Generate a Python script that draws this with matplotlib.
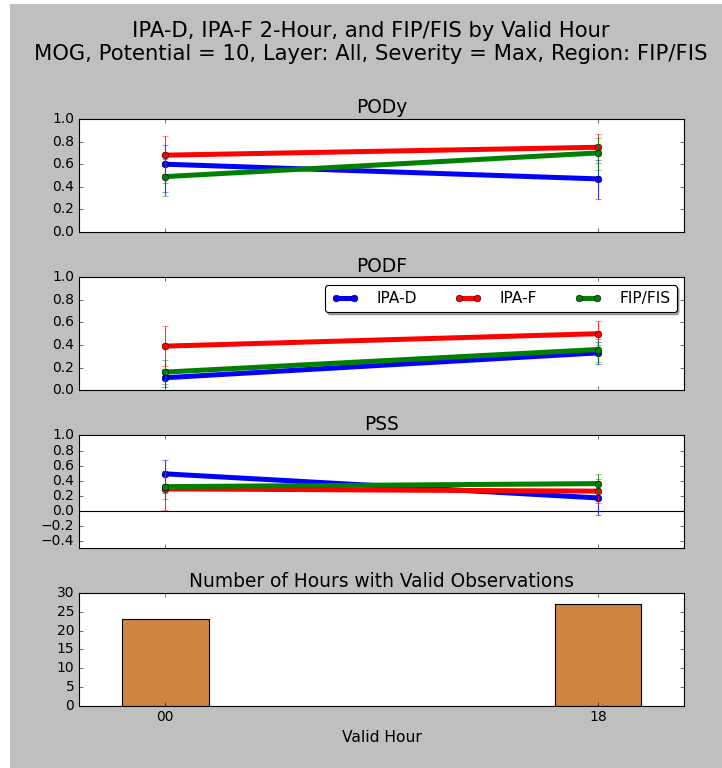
import matplotlib
matplotlib.use("Agg")
import matplotlib.pyplot as plt
from matplotlib.patches import Rectangle
import numpy as np

plt.style.use("classic")
plt.rcParams["font.size"] = 14
plt.rcParams["xtick.labelsize"] = 12.5
plt.rcParams["ytick.labelsize"] = 12.5

hours = ["00", "18"]
models = ["IPA-D", "IPA-F", "FIP/FIS"]
colors = ["b", "r", "g"]

# PODy
pody = [[0.60, 0.47], [0.68, 0.75], [0.49, 0.70]]
pody_lo = [[0.35, 0.29], [0.43, 0.61], [0.32, 0.55]]
pody_hi = [[0.77, 0.64], [0.85, 0.87], [0.65, 0.83]]

# PODF
podf = [[0.11, 0.33], [0.39, 0.50], [0.16, 0.36]]
podf_lo = [[0.03, 0.23], [0.21, 0.40], [0.05, 0.25]]
podf_hi = [[0.19, 0.43], [0.57, 0.61], [0.27, 0.45]]

# PSS
pss = [[0.49, 0.17], [0.29, 0.26], [0.32, 0.36]]
pss_lo = [[0.23, -0.06], [0.01, 0.10], [0.16, 0.23]]
pss_hi = [[0.68, 0.35], [0.53, 0.42], [0.50, 0.49]]

n_hours = [23, 27]

x = np.arange(len(hours))

fig = plt.figure(figsize=(722 / 80.0, 768 / 80.0), dpi=80, facecolor="white")
fig.patches.append(Rectangle((10 / 722.0, 0), 1, 1 - 4 / 768.0, transform=fig.transFigure,
                             facecolor="0.75", edgecolor="none", zorder=-10))

fig.suptitle("IPA-D, IPA-F 2-Hour, and FIP/FIS by Valid Hour\n"
             "MOG, Potential = 10, Layer: All, Severity = Max, Region: FIP/FIS",
             fontsize=19, x=0.514, y=0.973)

left, width, height = 0.109, 0.839, 0.147
bottoms = [0.698, 0.492, 0.286, 0.081]


def score_panel(ax, vals, lo, hi, title):
    for name, c, v, l, h in zip(models, colors, vals, lo, hi):
        v = np.array(v)
        err = [v - np.array(l), np.array(h) - v]
        ax.errorbar(x, v, yerr=err, fmt="none", ecolor=c, elinewidth=1, capsize=3, alpha=0.8)
        ax.plot(x, v, color=c, lw=4.5, marker="o", ms=6, label=name)
    ax.set_title(title)
    ax.set_xlim(-0.2, 1.2)
    ax.set_xticks(x)
    ax.set_xticklabels([])


ax1 = fig.add_axes([left, bottoms[0], width, height])
score_panel(ax1, pody, pody_lo, pody_hi, "PODy")
ax1.set_ylim(0, 1)
ax1.set_yticks(np.arange(0, 1.01, 0.2))

ax2 = fig.add_axes([left, bottoms[1], width, height])
score_panel(ax2, podf, podf_lo, podf_hi, "PODF")
ax2.set_ylim(0, 1)
ax2.set_yticks(np.arange(0, 1.01, 0.2))
ax2.legend(loc="upper right", ncol=3, fancybox=True, shadow=True, fontsize=14,
           handlelength=1.75, handletextpad=1.15, columnspacing=2.4)

ax3 = fig.add_axes([left, bottoms[2], width, height])
score_panel(ax3, pss, pss_lo, pss_hi, "PSS")
ax3.axhline(0, color="k", lw=1)
ax3.set_ylim(-0.5, 1)
ax3.set_yticks(np.arange(-0.4, 1.01, 0.2))

ax4 = fig.add_axes([left, bottoms[3], width, height])
ax4.bar(x, n_hours, width=0.2, align="center", color="peru", edgecolor="k")
ax4.set_title("Number of Hours with Valid Observations")
ax4.set_xlim(-0.2, 1.2)
ax4.set_ylim(0, 30)
ax4.set_yticks(range(0, 31, 5))
ax4.set_xticks(x)
ax4.set_xticklabels(hours)
ax4.set_xlabel("Valid Hour")

fig.savefig("out.png", dpi=80, facecolor=fig.get_facecolor())
